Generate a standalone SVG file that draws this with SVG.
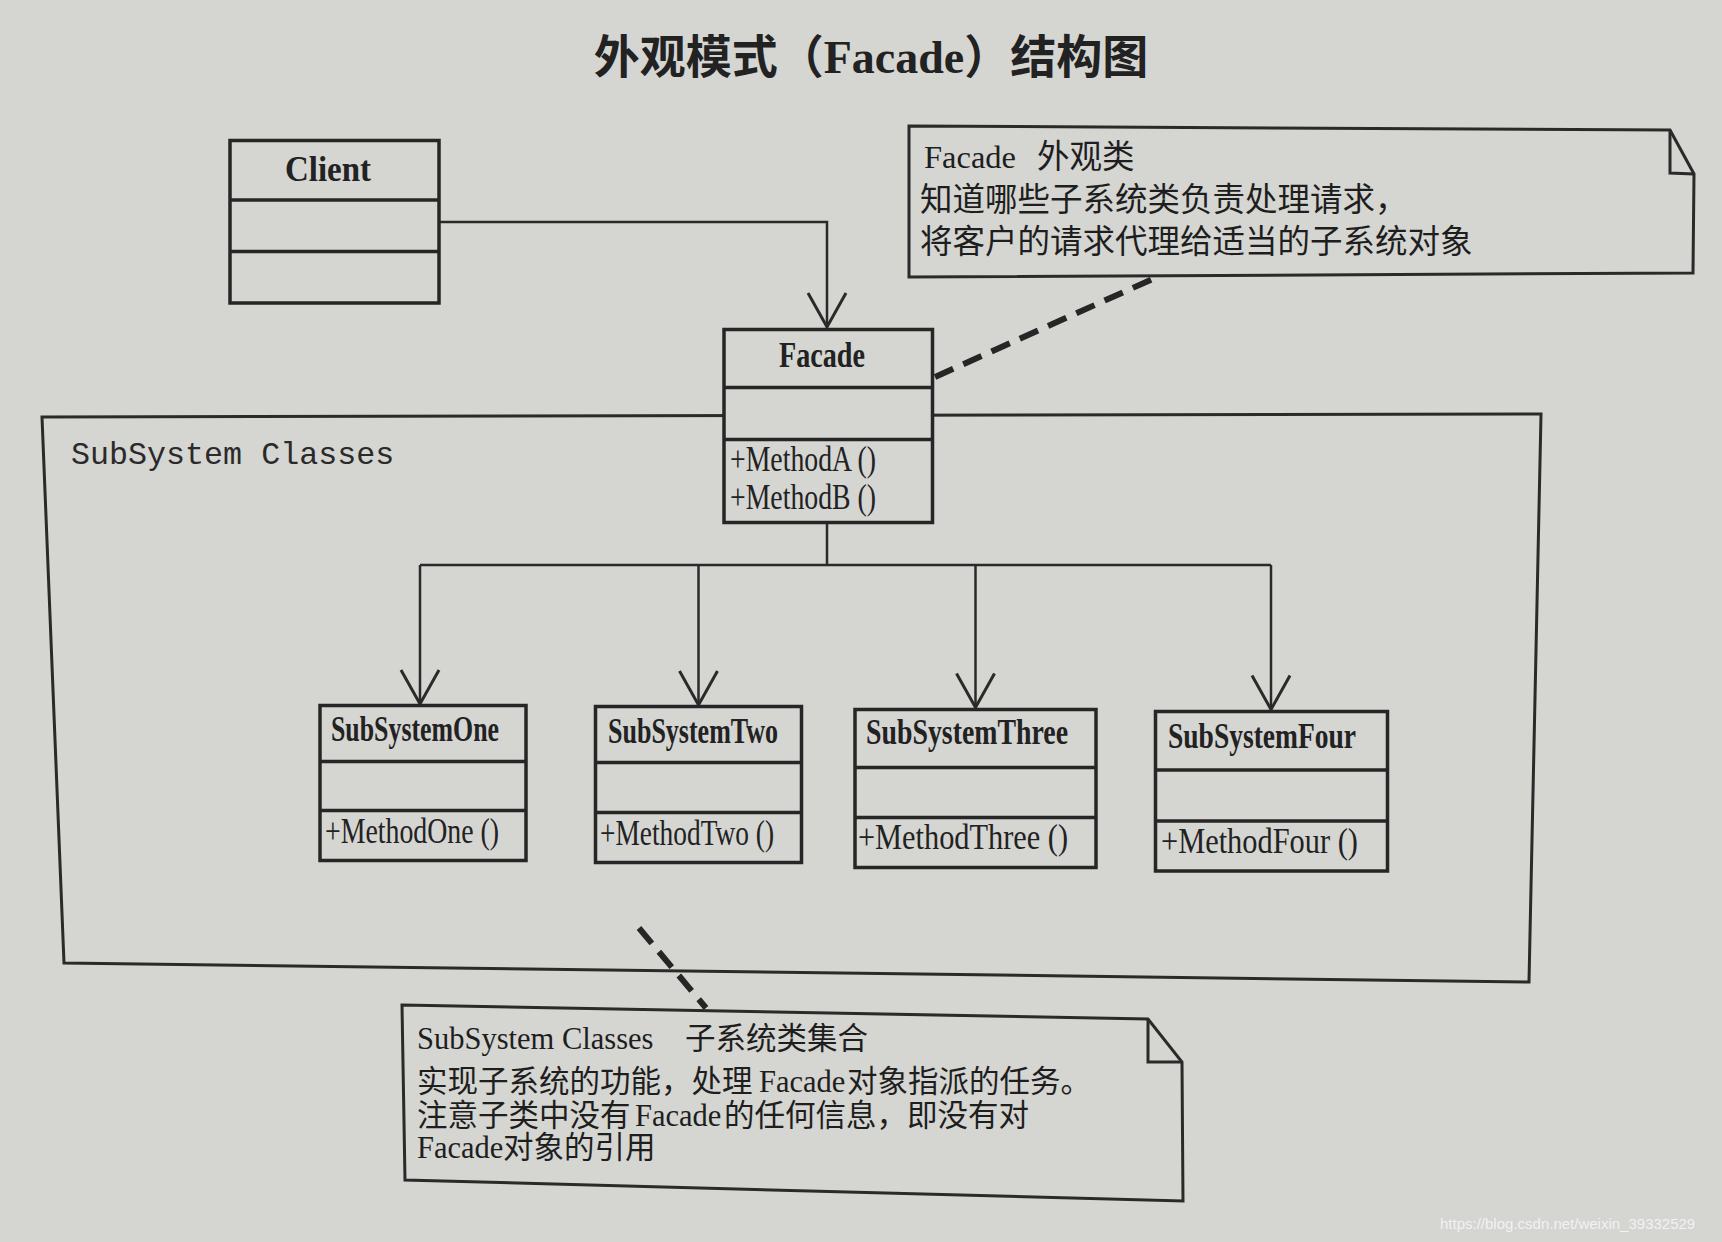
<svg xmlns="http://www.w3.org/2000/svg" width="1722" height="1242" viewBox="0 0 1722 1242">
<defs>
<style>
.bg{fill:#d5d5d2}
.box{fill:#d5d5d2;stroke:#262626;stroke-width:3.5}
.div{stroke:#262626;stroke-width:3.5}
.pkg{fill:none;stroke:#2a2a2a;stroke-width:3}
.note{fill:none;stroke:#2a2a2a;stroke-width:3}
.con{fill:none;stroke:#2a2a2a;stroke-width:2.5}
.dash{fill:none;stroke:#262626;stroke-width:6;stroke-dasharray:20 11}
.cn{font-family:"Liberation Serif","Noto Sans CJK SC",serif;font-weight:bold;font-size:35px;fill:#222}
.mt{font-family:"Liberation Serif","Noto Sans CJK SC",serif;font-size:35px;fill:#222}
.mono{font-family:"Liberation Mono",monospace;font-size:31.7px;fill:#2a2a2a}
.nt{font-family:"Liberation Serif","Noto Sans CJK SC",serif;font-size:32.5px;fill:#1e1e1e}
.nt2{font-family:"Liberation Serif","Noto Sans CJK SC",serif;font-size:30.5px;fill:#1e1e1e}
.title{font-family:"Liberation Serif","Noto Sans CJK SC",serif;font-weight:bold;font-size:46px;fill:#222}
.wm{font-family:"Liberation Sans",sans-serif;font-size:15px;fill:#f2f2f2}
</style>
<marker id="open" markerUnits="userSpaceOnUse" markerWidth="40" markerHeight="44" viewBox="0 0 40 44" refX="36" refY="22" orient="auto" overflow="visible">
<path d="M2,3 L36,22 L2,41" fill="none" stroke="#2a2a2a" stroke-width="3"/>
</marker>
</defs>
<rect class="bg" x="0" y="0" width="1722" height="1242"/>

<text class="title" x="871" y="73" text-anchor="middle">外观模式（Facade）结构图</text>

<g id="subsystem-classes">
<polygon class="pkg" points="42,417 1541,414 1529,982 64,963"/>
<text class="mono" x="71" y="464">SubSystem Classes</text>
</g>

<g id="connectors">
<path class="con" d="M439,222 H827 V327" marker-end="url(#open)"/>
<path class="con" d="M827,523 V565"/>
<path class="con" d="M420,565 H1271"/>
<path class="con" d="M420,565 V704" marker-end="url(#open)"/>
<path class="con" d="M698.5,565 V705" marker-end="url(#open)"/>
<path class="con" d="M975.5,565 V707.5" marker-end="url(#open)"/>
<path class="con" d="M1271,565 V709.5" marker-end="url(#open)"/>
<path class="dash" d="M935,377 L1157,277"/>
<path class="dash" d="M639,928 L706,1008"/>
</g>

<g id="client">
<rect class="box" x="230" y="140.5" width="209" height="162.5"/>
<line class="div" x1="230" y1="200" x2="439" y2="200"/>
<line class="div" x1="230" y1="251.5" x2="439" y2="251.5"/>
<text class="cn" x="285" y="181" textLength="86" lengthAdjust="spacingAndGlyphs">Client</text>
</g>

<g id="facade">
<rect class="box" x="724" y="329.5" width="208.5" height="193"/>
<line class="div" x1="724" y1="387.5" x2="932.5" y2="387.5"/>
<line class="div" x1="724" y1="439.5" x2="932.5" y2="439.5"/>
<text class="cn" x="779" y="367" textLength="86" lengthAdjust="spacingAndGlyphs">Facade</text>
<text class="mt" x="730" y="471" textLength="146" lengthAdjust="spacingAndGlyphs">+MethodA ()</text>
<text class="mt" x="730" y="509" textLength="146" lengthAdjust="spacingAndGlyphs">+MethodB ()</text>
</g>

<g id="subsystem-one">
<rect class="box" x="320" y="705.5" width="206" height="155"/>
<line class="div" x1="320" y1="761.5" x2="526" y2="761.5"/>
<line class="div" x1="320" y1="810.5" x2="526" y2="810.5"/>
<text class="cn" x="331" y="741" textLength="168" lengthAdjust="spacingAndGlyphs">SubSystemOne</text>
<text class="mt" x="325" y="843" textLength="174" lengthAdjust="spacingAndGlyphs">+MethodOne ()</text>
</g>

<g id="subsystem-two">
<rect class="box" x="595.5" y="706.5" width="206" height="156"/>
<line class="div" x1="595.5" y1="762.5" x2="801.5" y2="762.5"/>
<line class="div" x1="595.5" y1="812.5" x2="801.5" y2="812.5"/>
<text class="cn" x="608" y="743" textLength="170" lengthAdjust="spacingAndGlyphs">SubSystemTwo</text>
<text class="mt" x="600" y="845" textLength="174" lengthAdjust="spacingAndGlyphs">+MethodTwo ()</text>
</g>

<g id="subsystem-three">
<rect class="box" x="855" y="709.5" width="241" height="158"/>
<line class="div" x1="855" y1="767.5" x2="1096" y2="767.5"/>
<line class="div" x1="855" y1="817.5" x2="1096" y2="817.5"/>
<text class="cn" x="866" y="744" textLength="202" lengthAdjust="spacingAndGlyphs">SubSystemThree</text>
<text class="mt" x="858" y="849" textLength="210" lengthAdjust="spacingAndGlyphs">+MethodThree ()</text>
</g>

<g id="subsystem-four">
<rect class="box" x="1155.5" y="711.5" width="232" height="159.5"/>
<line class="div" x1="1155.5" y1="770" x2="1387.5" y2="770"/>
<line class="div" x1="1155.5" y1="821" x2="1387.5" y2="821"/>
<text class="cn" x="1168" y="748" textLength="188" lengthAdjust="spacingAndGlyphs">SubSystemFour</text>
<text class="mt" x="1161" y="853" textLength="197" lengthAdjust="spacingAndGlyphs">+MethodFour ()</text>
</g>

<g id="note-facade">
<polygon class="note" points="909,126 1670,130 1694,174 1693,273 909,277"/>
<polyline class="note" points="1670,130 1670,173 1694,174"/>
<text class="nt" y="168"><tspan x="924">Facade</tspan><tspan x="1037">外观类</tspan></text>
<text class="nt" x="920" y="211">知道哪些子系统类负责处理请求，</text>
<text class="nt" x="920" y="253">将客户的请求代理给适当的子系统对象</text>
</g>

<g id="note-subsystem">
<polygon class="note" points="402,1005 1148,1019 1182,1062 1183,1201 405,1180"/>
<polyline class="note" points="1148,1019 1148,1062 1182,1062"/>
<text class="nt2" y="1049"><tspan x="417">SubSystem Classes</tspan><tspan x="685">子系统类集合</tspan></text>
<text class="nt2" y="1092"><tspan x="417">实现子系统的功能，处理</tspan><tspan x="759">Facade</tspan><tspan x="847">对象指派的任务。</tspan></text>
<text class="nt2" y="1126"><tspan x="417">注意子类中没有</tspan><tspan x="635">Facade</tspan><tspan x="724">的任何信息，即没有对</tspan></text>
<text class="nt2" y="1158"><tspan x="417">Facade</tspan><tspan x="503">对象的引用</tspan></text>
</g>

<text class="wm" x="1440" y="1229">https://blog.csdn.net/weixin_39332529</text>
</svg>
